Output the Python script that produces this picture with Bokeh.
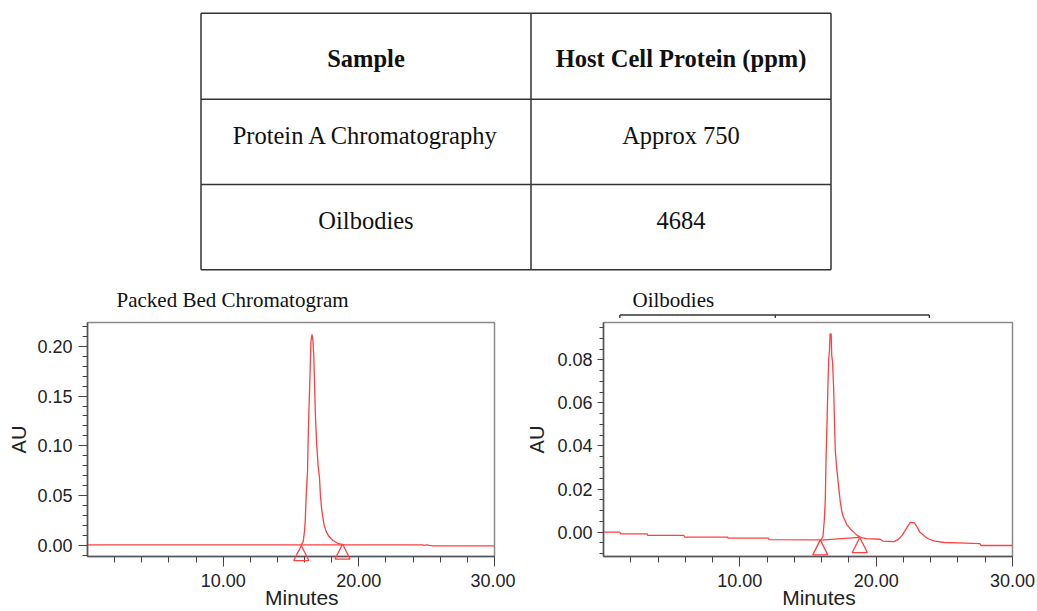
from bokeh.plotting import figure
from bokeh.layouts import column, row
from bokeh.models import Range1d, FixedTicker, NumeralTickFormatter
from bokeh.embed import file_html
from bokeh.resources import INLINE
from bokeh.core.properties import value

# ---------------- data ----------------
table_header = ["Sample", "Host Cell Protein (ppm)"]
table_samples = ["Protein A Chromatography", "Oilbodies"]
table_hcp = ["Approx 750", "4684"]

packed_time = [0, 15.75, 15.9, 16.0, 16.05, 16.12, 16.22, 16.27, 16.33, 16.4, 16.47, 16.55,
               16.62, 16.68, 16.74, 16.8, 16.9, 17.0, 17.1, 17.17, 17.25, 17.35, 17.45, 17.6,
               17.8, 18.1, 18.4, 18.75, 19.0, 24.7, 24.8, 25.0, 25.2, 25.5, 30]
packed_au = [0.0007, 0.0007, 0.004, 0.015, 0.025, 0.05, 0.075, 0.11, 0.14, 0.17, 0.205, 0.212,
             0.205, 0.19, 0.16, 0.13, 0.10, 0.08, 0.068, 0.05, 0.038, 0.028, 0.02, 0.014,
             0.009, 0.005, 0.0025, 0.0012, 0.0007, 0.0007, 0.0002, 0.0006, 0.0001, -0.0003, -0.0003]
packed_marker_time = [15.76, 18.8]
packed_marker_au = [0.0, 0.0015]
packed_base_time = [15.76, 18.8]
packed_base_au = [0.0007, 0.0007]

oil_time = [0, 1.2, 1.25, 3.2, 3.25, 5.9, 5.95, 9.1, 9.15, 12.1, 12.15, 15.95, 16.1, 16.2,
            16.27, 16.33, 16.4, 16.47, 16.52, 16.58, 16.62, 16.7, 16.74, 16.8, 16.88, 16.95,
            17.0, 17.1, 17.25, 17.37, 17.5, 17.6, 17.85, 18.1, 18.35, 18.6, 18.9, 19.3, 20.3,
            20.5, 21.3, 21.6, 21.9, 22.2, 22.5, 22.8, 23.0, 23.2, 23.4, 23.6, 23.9, 24.3, 25.0,
            26.0, 27.6, 27.7, 30]
oil_au = [0.0, 0.0, -0.0008, -0.0008, -0.0015, -0.0015, -0.0023, -0.0023, -0.0028, -0.0028,
          -0.0035, -0.0036, -0.002, 0.006, 0.015, 0.036, 0.052, 0.07, 0.08, 0.085, 0.092, 0.092,
          0.082, 0.079, 0.067, 0.05, 0.038, 0.03, 0.021, 0.014, 0.009, 0.007, 0.0035, 0.0015,
          0.0, -0.0015, -0.0025, -0.003, -0.0033, -0.0042, -0.0044, -0.0035, -0.0015, 0.0015,
          0.0045, 0.0043, 0.0025, 0.0, -0.001, -0.0022, -0.0033, -0.0042, -0.0048, -0.005,
          -0.0053, -0.0062, -0.0062]
oil_marker_time = [15.9, 18.8]
oil_marker_au = [-0.0036, -0.0025]
oil_base_time = [15.95, 18.75]
oil_base_au = [-0.0037, -0.0024]
oil_bracket_time = [1.2, 12.6, 23.9]

x_major = [10, 20, 30]
x_minor = [2, 4, 6, 8, 12, 14, 16, 18, 22, 24, 26, 28]
x_label = "Minutes"
x_label_time = 15.8
y_label = "AU"

packed_y_major = [0.0, 0.05, 0.10, 0.15, 0.20]
packed_y_minor = [-0.01, 0.01, 0.02, 0.03, 0.04, 0.06, 0.07, 0.08, 0.09, 0.11, 0.12, 0.13,
                  0.14, 0.16, 0.17, 0.18, 0.19, 0.21, 0.22]
oil_y_major = [0.0, 0.02, 0.04, 0.06, 0.08]
oil_y_minor = [-0.01, -0.005, 0.005, 0.01, 0.015, 0.025, 0.03, 0.035, 0.045, 0.05, 0.055,
               0.065, 0.07, 0.075, 0.085, 0.09, 0.095]

RED = "#ff4040"
SERIF = "Liberation Serif"
SANS = "Liberation Sans"

# ---------------- table ----------------
TW, TH = 1037, 272
tab = figure(width=TW, height=TH, x_range=Range1d(0, TW), y_range=Range1d(TH, 0),
             output_backend="svg", toolbar_location=None, min_border=0,
             x_axis_location=None, y_axis_location=None)
tab.grid.visible = False
tab.outline_line_color = None
tx0, tx1, tx2 = 200.5, 530.5, 830.5
ty = [12.7, 98.7, 184, 269.3]
tab.segment(x0=[tx0] * 4, x1=[tx2] * 4, y0=ty, y1=ty, line_color="#333333", line_width=1.5)
tab.segment(x0=[tx0, tx1, tx2], x1=[tx0, tx1, tx2], y0=[ty[0]] * 3, y1=[ty[-1]] * 3,
            line_color="#333333", line_width=1.5)
cx = [(tx0 + tx1) / 2, (tx1 + tx2) / 2]
cy = [57.5, 134.5, 219.5]
tab.text(x=cx, y=[cy[0]] * 2, text=table_header, text_font=value(SERIF), text_font_style="bold",
         text_font_size="24.5px", text_align="center", text_baseline="middle", text_color="#111111")
tab.text(x=[cx[0]] * 2, y=cy[1:], text=table_samples, text_font=value(SERIF),
         text_font_size="24.5px", text_align="center", text_baseline="middle", text_color="#111111")
tab.text(x=[cx[1]] * 2, y=cy[1:], text=table_hcp, text_font=value(SERIF),
         text_font_size="24.5px", text_align="center", text_baseline="middle", text_color="#111111")


# ---------------- chromatograms ----------------
def chromatogram(title, t, au, ymin, ymax, ymaj, ymin_ticks, width, bl, br,
                 mk_t, mk_au, base_t, base_au, ytick_major, ytick_minor, ystand, ylab_stand):
    H, bt, bb = 339, 50, 55
    p = figure(width=width, height=H, x_range=Range1d(0, 30), y_range=Range1d(ymin, ymax),
               output_backend="svg", toolbar_location=None,
               min_border_left=bl, min_border_right=br, min_border_top=bt, min_border_bottom=bb)
    p.grid.visible = False
    p.outline_line_color = "#8a8a8a"
    p.outline_line_width = 1.5
    p.title.text = title
    p.title.text_font = SERIF
    p.title.text_font_size = "21px"
    p.title.text_font_style = "normal"
    p.title.text_color = "#111111"
    p.title.align = "left"
    p.title.offset = 29
    p.title.standoff = 21

    p.xaxis.ticker = FixedTicker(ticks=x_major, minor_ticks=x_minor)
    p.xaxis.formatter = NumeralTickFormatter(format="0.00")
    p.yaxis.ticker = FixedTicker(ticks=ymaj, minor_ticks=ymin_ticks)
    p.yaxis.formatter = NumeralTickFormatter(format="0.00")
    for ax in (p.xaxis, p.yaxis):
        ax.axis_line_color = "#555555"
        ax.axis_line_width = 1.5
        ax.major_tick_line_color = "#444444"
        ax.minor_tick_line_color = "#444444"
        ax.major_tick_in = 0
        ax.minor_tick_in = 0
        ax.major_label_text_font = SANS
        ax.major_label_text_font_size = "18px"
        ax.major_label_text_color = "#222222"
        ax.axis_label_text_font = SANS
        ax.axis_label_text_font_size = "20px"
        ax.axis_label_text_font_style = "normal"
        ax.axis_label_text_color = "#222222"
    p.xaxis.major_tick_out = 10
    p.xaxis.minor_tick_out = 6
    p.yaxis.major_tick_out = ytick_major
    p.yaxis.minor_tick_out = ytick_minor
    p.xaxis.major_label_standoff = 7
    p.yaxis.major_label_standoff = ystand
    p.yaxis.axis_label = y_label
    p.yaxis.axis_label_standoff = ylab_stand

    # signal and integration baseline
    p.line(t, au, line_color=RED, line_width=1.3)
    p.line(base_t, base_au, line_color=RED, line_width=1.2)

    fw = width - bl - br
    fh = H - bt - bb
    ppu = fh / (ymax - ymin)

    # peak markers: hollow triangles with apex on the trace (15 px wide/high)
    dx = 7.5 * 30 / fw
    dy = 15 / ppu
    xs = [[x - dx, x + dx, x] for x in mk_t]
    ys = [[y - dy, y - dy, y] for y in mk_au]
    p.patches(xs, ys, fill_alpha=0, line_color=RED, line_width=1.3, level="overlay")

    # x axis title below the tick labels
    p.text(x=[x_label_time], y=[ymin - 41 / ppu], text=[x_label], text_font=value(SANS),
           text_font_size="21px", text_align="center", text_baseline="middle",
           text_color="#222222", level="overlay")
    return p, ppu


left, _ = chromatogram("Packed Bed Chromatogram", packed_time, packed_au, -0.011, 0.2238,
                       packed_y_major, packed_y_minor, 515, 87, 21,
                       packed_marker_time, packed_marker_au, packed_base_time, packed_base_au,
                       9, 5, 6, 4)
right, ppu = chromatogram("Oilbodies", oil_time, oil_au, -0.0113, 0.0973,
                          oil_y_major, oil_y_minor, 522, 88, 25,
                          oil_marker_time, oil_marker_au, oil_base_time, oil_base_au,
                          6, 4, 5, 6)

# time-window bracket above the Oilbodies frame
by = 0.0973 + 7.5 / ppu
btick = 3 / ppu
right.line([oil_bracket_time[0], oil_bracket_time[-1]], [by, by], line_color="#333333",
           line_width=1.3, level="overlay")
right.segment(x0=oil_bracket_time, x1=oil_bracket_time, y0=[by] * 3, y1=[by - btick] * 3,
              line_color="#333333", line_width=1.3, level="overlay")

layout = column(tab, row(left, right))
open("out.html", "w").write(file_html(layout, INLINE))
